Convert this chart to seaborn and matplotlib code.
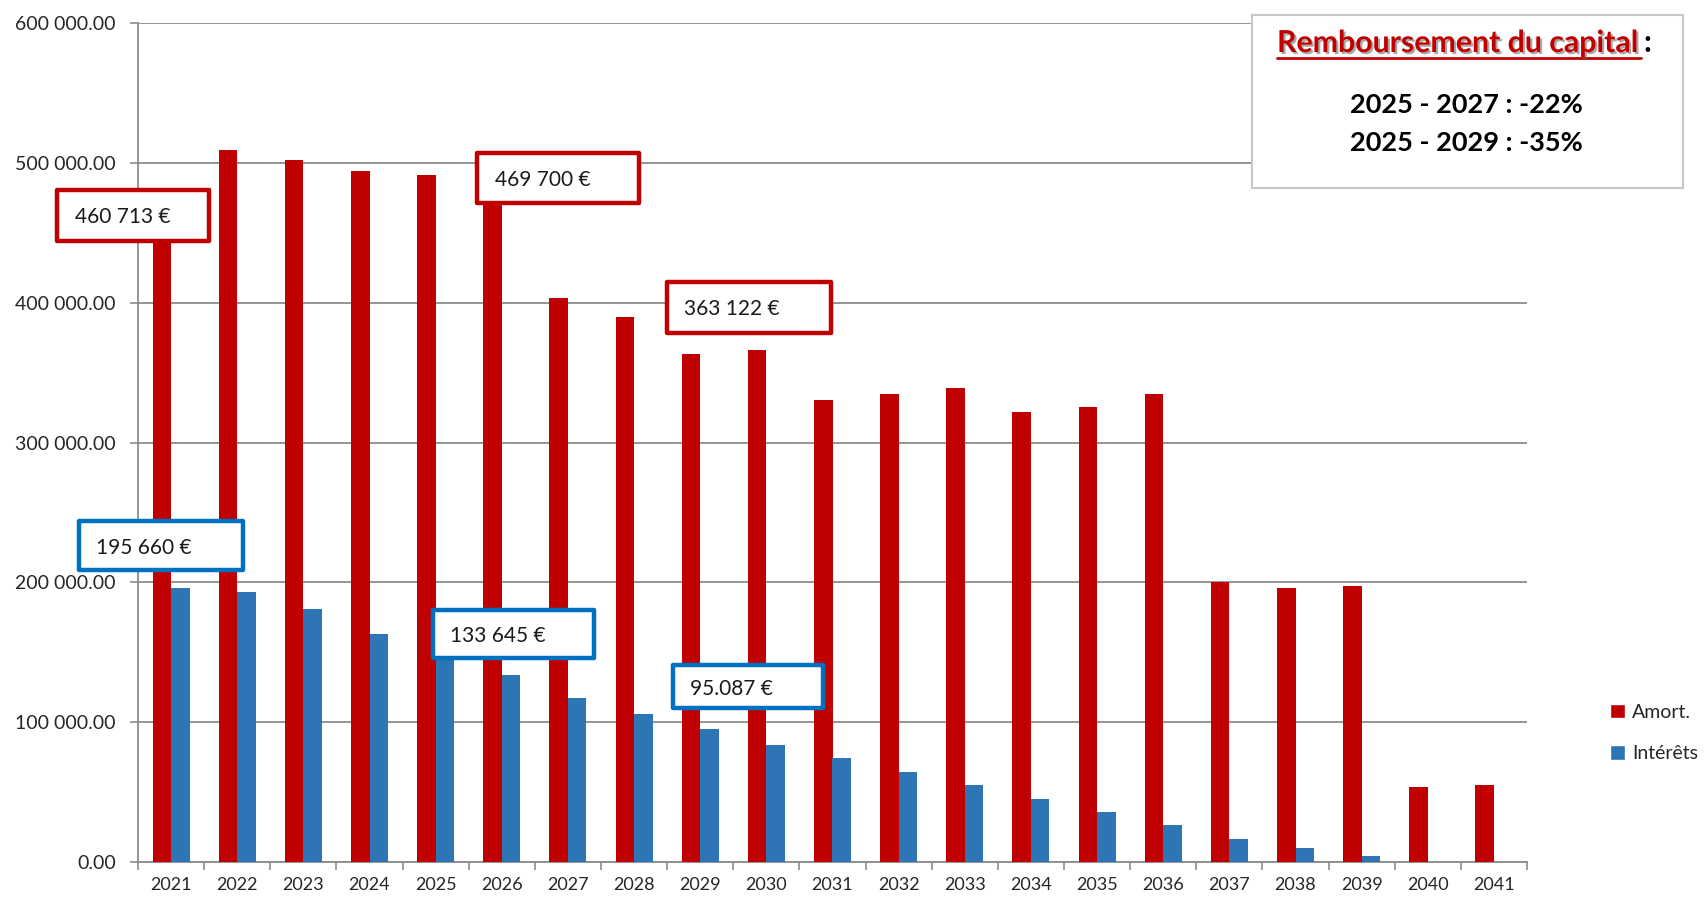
import numpy as np
import pandas as pd
import seaborn as sns
import matplotlib
matplotlib.use('Agg')
import matplotlib.pyplot as plt
import matplotlib.patheffects as pe
from matplotlib.patches import Rectangle
from matplotlib.ticker import FuncFormatter, FixedLocator

# === données ===
annees = [str(a) for a in range(2021, 2042)]
amort = [460713, 509200, 502300, 493900, 491300, 469700, 403200, 389600, 363122, 366200,
         330500, 334600, 338900, 322100, 325300, 334600, 200300, 195700, 197100, 53400, 54800]
interets = [195660, 193100, 180700, 163400, 148500, 133645, 117600, 105500, 95087, 83600,
            74100, 64300, 54800, 45200, 35700, 26200, 16600, 9800, 4300, 0, 0]
series = ['Amort.', 'Intérêts']

# étiquettes encadrées
etiquettes = ['460 713 €', '469 700 €', '363 122 €', '195 660 €', '133 645 €', '95.087 €']
etiquette_serie = [0, 0, 0, 1, 1, 1]

titre_encart = 'Remboursement du capital'
lignes_encart = ['2025 - 2027 : -22%', '2025 - 2029 : -35%']

# === mise en page ===
ROUGE = '#C00000'
BLEU = '#2E75B6'
BORD = [ROUGE, '#0070C0']
GRIS = '#8C8C8C'
# positions des cadres (x0, x1 en catégories, y0, y1 en euros)
cadres_x = [(-1.72, 0.57), (4.63, 7.07), (7.50, 9.98), (-1.39, 1.09), (3.96, 6.39), (7.59, 9.86)]
cadres_y = [(444200, 480700), (471400, 507100), (378400, 414900),
            (208900, 243900), (145900, 180300), (110200, 140900)]

sns.set_theme(style='white')
plt.rcParams['font.family'] = ['Lato', 'DejaVu Sans']

df = pd.DataFrame({
    'annee': annees * 2,
    'montant': amort + interets,
    'serie': [series[0]] * len(annees) + [series[1]] * len(annees),
})

W, H = 1704, 901
fig = plt.figure(figsize=(W / 100, H / 100), dpi=100)
ax = fig.add_axes([138 / W, 1 - 862 / H, (1527 - 138) / W, (862 - 23) / H])

sns.barplot(data=df, x='annee', y='montant', hue='serie', hue_order=series,
            palette=[ROUGE, BLEU], width=0.56, gap=0, saturation=1,
            legend=False, ax=ax, zorder=3, linewidth=0)

ax.set_xlim(-0.5, len(annees) - 0.5)
ax.set_ylim(0, 600000)
ax.set_xlabel('')
ax.set_ylabel('')
ax.set_yticks(np.arange(0, 600001, 100000))
ax.yaxis.set_major_formatter(FuncFormatter(lambda v, p: f'{v:,.2f}'.replace(',', ' ')))
ax.xaxis.set_minor_locator(FixedLocator(np.arange(-0.5, len(annees), 1.0)))
ax.tick_params(axis='x', which='major', length=0, pad=11, labelsize=13, colors='#262626')
ax.tick_params(axis='x', which='minor', length=6, width=1.2, color=GRIS, bottom=True)
ax.tick_params(axis='y', which='major', length=6, width=1.2, color=GRIS, pad=10,
               labelsize=14, labelcolor='#262626', left=True)
ax.yaxis.grid(True, color=GRIS, linewidth=1.3, zorder=0)
ax.set_axisbelow(True)
for s in ['top', 'right']:
    ax.spines[s].set_visible(False)
for s in ['left', 'bottom']:
    ax.spines[s].set_color(GRIS)
    ax.spines[s].set_linewidth(1.3)

# cadres d'étiquettes
for txt, ser, (x0, x1), (y0, y1) in zip(etiquettes, etiquette_serie, cadres_x, cadres_y):
    ax.add_patch(Rectangle((x0, y0), x1 - x0, y1 - y0, facecolor='white',
                           edgecolor=BORD[ser], linewidth=3.2, joinstyle='round',
                           clip_on=False, zorder=5))
    ax.text(x0 + 0.26, (y0 + y1) / 2 - 1500, txt, ha='left', va='center',
            fontsize=15, color='#1a1a1a', zorder=6, clip_on=False)

# légende
poignees = [Rectangle((0, 0), 1, 1, facecolor=c) for c in [ROUGE, BLEU]]
fig.legend(poignees, series, loc='upper left', bbox_to_anchor=(1610 / W, 1 - 704 / H),
           frameon=False, fontsize=14, handlelength=0.75, handleheight=0.75,
           handletextpad=0.4, labelspacing=1.25, borderpad=0, borderaxespad=0)

# encart en haut à droite
fig.patches.append(Rectangle((1252 / W, 1 - 188 / H), (1683 - 1252) / W, (188 - 15) / H,
                             transform=fig.transFigure, facecolor='white',
                             edgecolor='#C8C8C8', linewidth=1.5, zorder=10))
t = fig.text(1277 / W, 1 - 43 / H, titre_encart, ha='left', va='center',
             fontsize=21.8, fontweight='bold', color=ROUGE, zorder=11,
             path_effects=[pe.SimplePatchShadow(offset=(1.5, -1.5), shadow_rgbFace='#555555',
                                                alpha=0.5), pe.Normal()])
fig.canvas.draw()
bb = t.get_window_extent().transformed(fig.transFigure.inverted())
fig.text(bb.x1 + 5 / W, 1 - 43 / H, ':', ha='left', va='center', fontsize=21.8,
         fontweight='bold', color='black', zorder=11)
fig.add_artist(plt.Line2D([bb.x0, bb.x1 + 2 / W], [1 - 58 / H, 1 - 58 / H],
                          transform=fig.transFigure, color=ROUGE, linewidth=2, zorder=11))
for i, ligne in enumerate(lignes_encart):
    fig.text(1466 / W, 1 - (105 + 38 * i) / H, ligne, ha='center', va='center',
             fontsize=19.5, fontweight='bold', color='black', zorder=11)

fig.savefig('out.png', dpi=100)
